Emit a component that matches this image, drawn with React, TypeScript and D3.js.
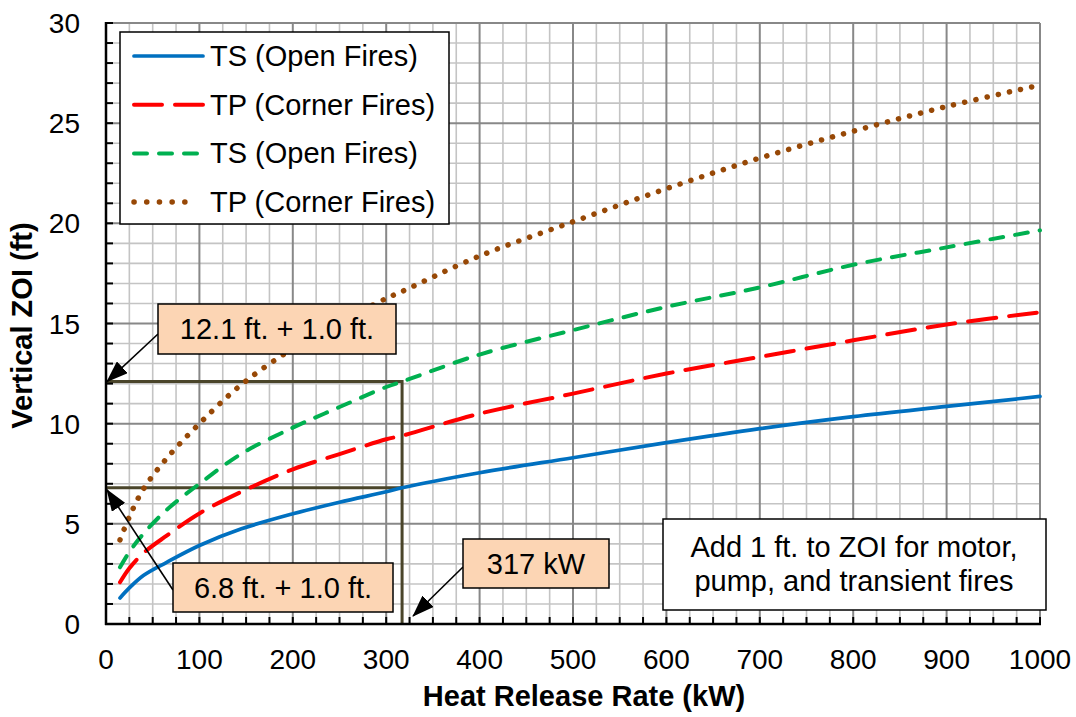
import * as d3 from 'd3';

// heat release rate (kW) sample points
const hrr = [15, 25, 40, 65, 100, 145, 200, 250, 300, 317, 400, 500, 600, 700, 800, 900, 1000];
// vertical ZOI (ft)
const tsOpenSolid = [1.3, 1.8, 2.42, 3.08, 3.92, 4.75, 5.5, 6.08, 6.6, 6.8, 7.55, 8.3, 9.05, 9.75, 10.35, 10.86, 11.36];
const tpCornerDash = [2.08, 2.78, 3.54, 4.41, 5.52, 6.6, 7.72, 8.48, 9.22, 9.4, 10.5, 11.5, 12.5, 13.33, 14.16, 14.95, 15.56];
const tsOpenShort = [2.83, 3.6, 4.5, 5.7, 7.0, 8.5, 9.8, 10.83, 11.83, 12.1, 13.45, 14.67, 15.83, 16.8, 17.93, 18.8, 19.65];
const tpCornerDot = [4.2, 5.35, 6.73, 8.27, 10.0, 11.95, 13.75, 15.05, 16.25, 16.6, 18.37, 20.08, 21.73, 23.26, 24.6, 25.83, 26.9];

const seriesNames = ['TS (Open Fires)', 'TP (Corner Fires)', 'TS (Open Fires)', 'TP (Corner Fires)'];

const xTicks = [0, 100, 200, 300, 400, 500, 600, 700, 800, 900, 1000];
const yTicks = [0, 5, 10, 15, 20, 25, 30];

// annotation values
const markHrr = [317];
const markZoi = [12.1, 6.8];
const noteLines = ['Add 1 ft. to ZOI for motor,', 'pump, and transient fires'];

const W = 1076;
const H = 717;
const FONT = "Arial, 'Liberation Sans', sans-serif";

const x = d3.scaleLinear().domain([0, 1000]).range([106, 1040]);
const y = d3.scaleLinear().domain([0, 30]).range([624, 23]);

const styles = [
  { color: '#0070C0', dash: undefined as string | undefined, width: 3.7 },
  { color: '#FF0000', dash: '28 13', width: 4 },
  { color: '#00B050', dash: '13 12', width: 4 },
  { color: '#974806', dash: '0.1 11.3', width: 5.5 },
];
const legendDash = ['', '28 13', '13 12', '0.1 12.6'];

const allSeries = [tsOpenSolid, tpCornerDash, tsOpenShort, tpCornerDot];

export default function App() {
  const line = d3
    .line<number>()
    .x((_, i) => x(hrr[i]))
    .y((d) => y(d))
    .curve(d3.curveCatmullRom.alpha(0.5));

  const minorX = d3.range(0, 1001, 25).filter((v) => v % 100 !== 0);
  const minorY = d3.range(0, 31, 1).filter((v) => v % 5 !== 0);
  const x0 = x(0);
  const yBase = y(0);

  const peach = '#FCD5B4';
  const olive = '#4A452A';

  const boxes = [
    { x: 158, y: 304, w: 238, h: 50, text: `${markZoi[0]} ft. + 1.0 ft.`, from: [158, 334], to: [x0 + 1, y(markZoi[0])] },
    { x: 173, y: 563, w: 220, h: 49, text: `${markZoi[1]} ft. + 1.0 ft.`, from: [173, 590], to: [x0 + 1, y(markZoi[1]) + 2] },
    { x: 463, y: 539, w: 146, h: 49, text: `${markHrr[0]} kW`, from: [463, 567], to: [x(markHrr[0]) + 11, yBase - 8] },
  ];

  return (
    <svg width={W} height={H} style={{ position: 'absolute', left: 0, top: 0, background: '#fff' }} fontFamily={FONT}>
      <defs>
        <marker id="arrow" viewBox="0 0 22 16" refX="21" refY="8" markerWidth="22" markerHeight="16" markerUnits="userSpaceOnUse" orient="auto">
          <path d="M0,0 L22,8 L0,16 Z" fill="#000" />
        </marker>
      </defs>
      <rect x={0} y={0} width={W} height={H} fill="#fff" />

      {/* grid */}
      <g>
        {minorX.map((v) => (
          <line key={'mx' + v} x1={x(v)} x2={x(v)} y1={y(30)} y2={yBase} stroke="#C4C4C4" strokeWidth={1.6} />
        ))}
        {minorY.map((v) => (
          <line key={'my' + v} x1={x0} x2={x(1000)} y1={y(v)} y2={y(v)} stroke="#C4C4C4" strokeWidth={1.6} />
        ))}
        {xTicks.slice(1).map((v) => (
          <line key={'Mx' + v} x1={x(v)} x2={x(v)} y1={y(30)} y2={yBase} stroke="#888" strokeWidth={2} />
        ))}
        {yTicks.slice(1).map((v) => (
          <line key={'My' + v} x1={x0} x2={x(1000)} y1={y(v)} y2={y(v)} stroke="#888" strokeWidth={2} />
        ))}
      </g>

      {/* reference lines */}
      <path
        d={`M${x0},${y(markZoi[0])}H${x(markHrr[0])}V${yBase}M${x0},${y(markZoi[1])}H${x(markHrr[0])}`}
        fill="none"
        stroke={olive}
        strokeWidth={3}
      />

      {/* series */}
      {allSeries.map((s, i) => (
        <path
          key={i}
          d={line(s) ?? ''}
          fill="none"
          stroke={styles[i].color}
          strokeWidth={styles[i].width}
          strokeDasharray={styles[i].dash}
          strokeLinecap="round"
        />
      ))}

      {/* axes */}
      <line x1={x0} x2={x0} y1={y(30) - 1} y2={yBase + 1} stroke="#000" strokeWidth={2.5} />
      <line x1={x0 - 1} x2={x(1000) + 1} y1={yBase} y2={yBase} stroke="#000" strokeWidth={2.5} />
      {d3.range(25, 1001, 25).map((v) => (
        <line key={'tx' + v} x1={x(v)} x2={x(v)} y1={yBase} y2={yBase - 7} stroke="#000" strokeWidth={2} />
      ))}
      {d3.range(1, 31, 1).map((v) => (
        <line key={'ty' + v} x1={x0} x2={x0 + 7} y1={y(v)} y2={y(v)} stroke="#000" strokeWidth={2} />
      ))}
      {xTicks.map((v) => (
        <text key={'xl' + v} x={x(v)} y={669} fontSize={28} textAnchor="middle" fill="#000">
          {v}
        </text>
      ))}
      {yTicks.map((v) => (
        <text key={'yl' + v} x={80} y={y(v) + 10} fontSize={28} textAnchor="end" fill="#000">
          {v}
        </text>
      ))}
      <text x={584} y={706} fontSize={29} fontWeight="bold" textAnchor="middle">
        Heat Release Rate (kW)
      </text>
      <text transform={`translate(32,${(y(0) + y(30)) / 2 + 2}) rotate(-90)`} fontSize={29} fontWeight="bold" textAnchor="middle">
        Vertical ZOI (ft)
      </text>

      {/* legend */}
      <g>
        <rect x={120} y={32} width={329} height={192} fill="#fff" stroke="#000" strokeWidth={1.5} />
        {seriesNames.map((name, i) => {
          const cy = 56 + i * 48.7;
          return (
            <g key={'lg' + i}>
              <line
                x1={134}
                x2={i === 3 ? 197 : 203}
                y1={cy}
                y2={cy}
                stroke={styles[i].color}
                strokeWidth={styles[i].width}
                strokeDasharray={legendDash[i] || undefined}
                strokeLinecap="round"
              />
              <text x={210} y={cy + 10} fontSize={29}>
                {name}
              </text>
            </g>
          );
        })}
      </g>

      {/* callouts */}
      {boxes.map((b, i) => (
        <g key={'bx' + i}>
          <line x1={b.from[0]} y1={b.from[1]} x2={b.to[0]} y2={b.to[1]} stroke="#000" strokeWidth={1.6} markerEnd="url(#arrow)" />
          <rect x={b.x} y={b.y} width={b.w} height={b.h} fill={peach} stroke="#000" strokeWidth={1.5} />
          <text x={b.x + b.w / 2} y={b.y + b.h / 2 + 10} fontSize={29} textAnchor="middle">
            {b.text}
          </text>
        </g>
      ))}

      {/* note */}
      <rect x={663} y={519} width={383} height={91} fill="#fff" stroke="#000" strokeWidth={1.5} />
      {noteLines.map((t, i) => (
        <text key={'nt' + i} x={854} y={557 + i * 34} fontSize={29} textAnchor="middle">
          {t}
        </text>
      ))}
    </svg>
  );
}
